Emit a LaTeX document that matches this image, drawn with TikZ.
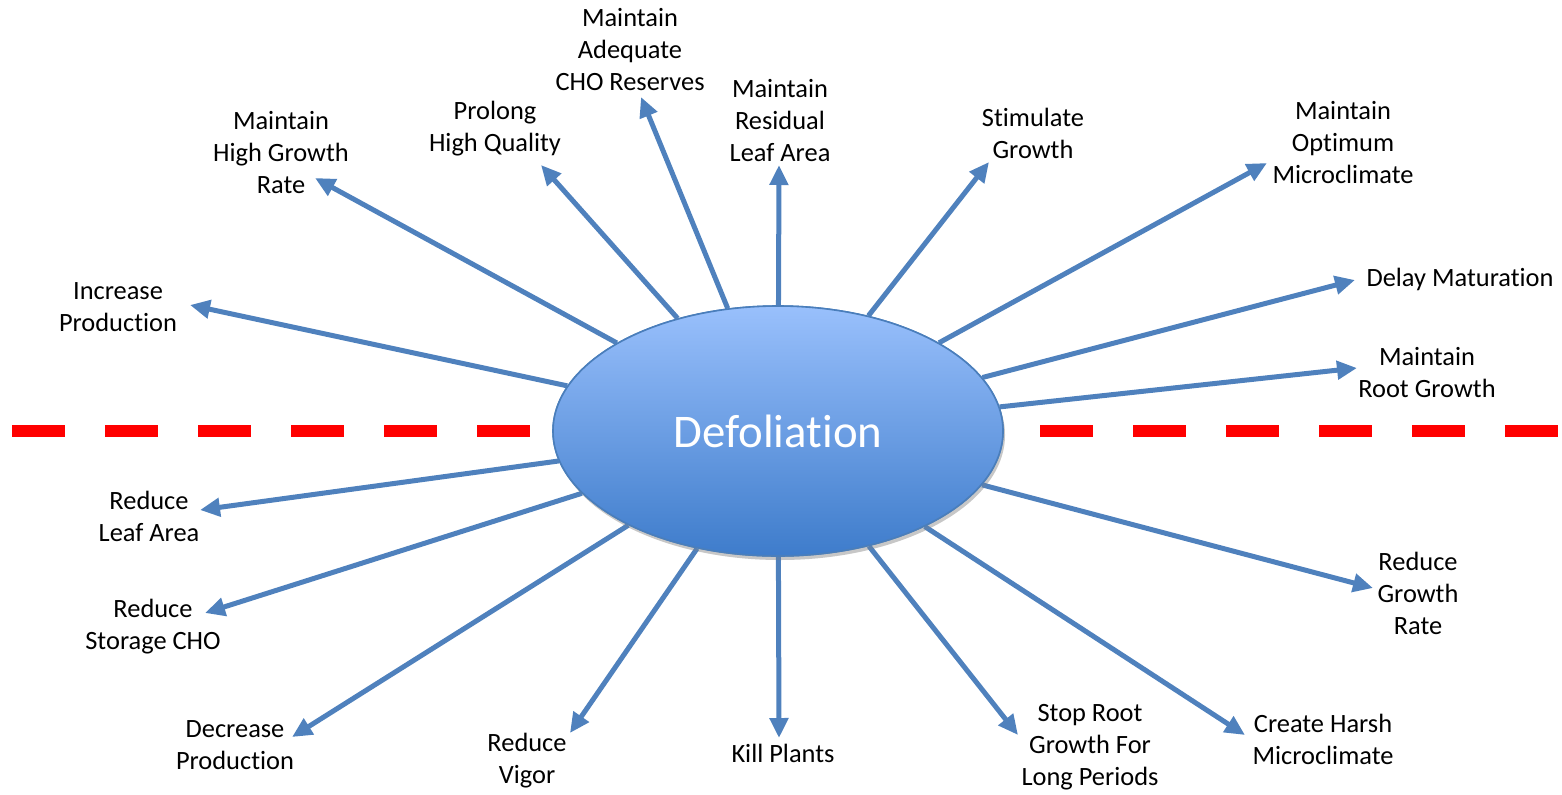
\documentclass[tikz,border=0pt]{standalone}
\usepackage{fontspec}
\setmainfont[RawFeature={-liga;-clig;-calt;-dlig}]{Carlito}
\usetikzlibrary{arrows.meta,shapes.geometric,shadows}
\definecolor{arrowblue}{RGB}{79,129,189}
\definecolor{elltop}{RGB}{153,192,252}
\definecolor{ellbot}{RGB}{62,124,203}
\definecolor{ellborder}{RGB}{74,126,187}
\definecolor{dashred}{RGB}{255,0,0}
\tikzset{
  lbl/.style={align=center, font=\fontsize{13.2}{16}\selectfont, text=black, inner sep=0pt},
  ray/.style={draw=arrowblue, line width=2.5pt, -{Triangle[length=10pt,width=9pt]}},
  splitline/.style={draw=dashred, line width=6pt, dash pattern=on 26.5pt off 20pt},
  hub/.style={ellipse, minimum width=225pt, minimum height=125pt, draw=ellborder, line width=0.8pt,
    top color=elltop, bottom color=ellbot, text=white, font=\fontsize{23.4}{28}\selectfont,
    drop shadow={opacity=0.25, shadow xshift=1pt, shadow yshift=-2pt}}
}
\begin{document}
\begin{tikzpicture}[x=0.5pt, y=-0.5pt]
\useasboundingbox (0,0) rectangle (1562,794);
% dashed divider
\draw[splitline] (12,431) -- (531,431);
\draw[splitline] (1040,431) -- (1559,431);
% tips
\coordinate (t1) at (190,305);
\coordinate (t2) at (315,178);
\coordinate (t3) at (541,165);
\coordinate (t4) at (641,97);
\coordinate (t5) at (779,165);
\coordinate (t6) at (989,162);
\coordinate (t7) at (1267,163);
\coordinate (t8) at (1355,280);
\coordinate (t9) at (1357,368);
\coordinate (t10) at (1373,588);
\coordinate (t11) at (1245,735);
\coordinate (t12) at (1018,735);
\coordinate (t13) at (779,738);
\coordinate (t14) at (570,733);
\coordinate (t15) at (292,737);
\coordinate (t16) at (205,613);
\coordinate (t17) at (200,510);
% arrows
\node[hub] (def) at (778,431) {Defoliation};
\foreach \i in {1,...,17} { \draw[ray] (def) -- (t\i); }
\node[hub] at (778,431) {Defoliation};
% labels
\node[lbl] (l1) at (118,307) {Increase\\Production};
\node[lbl] (l2) at (281,153) {Maintain\\High Growth\\Rate};
\node[lbl] (l3) at (495,129) {Prolong\\High Quality};
\node[lbl] (l4) at (630,50) {Maintain\\Adequate\\CHO Reserves};
\node[lbl] (l5) at (780,121) {Maintain\\Residual\\Leaf Area};
\node[lbl] (l6) at (1033,133) {Stimulate\\Growth};
\node[lbl] (l7) at (1343,143) {Maintain\\Optimum\\Microclimate};
\node[lbl] (l8) at (1460,279) {Delay Maturation};
\node[lbl] (l9) at (1427,373) {Maintain\\Root Growth};
\node[lbl] (l10) at (1418,593) {Reduce\\Growth\\Rate};
\node[lbl] (l11) at (1323,739) {Create Harsh\\Microclimate};
\node[lbl] (l12) at (1090,747) {Stop Root\\Growth For\\Long Periods};
\node[lbl] (l13) at (783,753) {Kill Plants};
\node[lbl] (l14) at (527,761) {Reduce\\Vigor};
\node[lbl] (l15) at (235,745) {Decrease\\Production};
\node[lbl] (l16) at (153,627) {Reduce\\Storage CHO};
\node[lbl] (l17) at (149,516) {Reduce\\Leaf Area};
\end{tikzpicture}
\end{document}
